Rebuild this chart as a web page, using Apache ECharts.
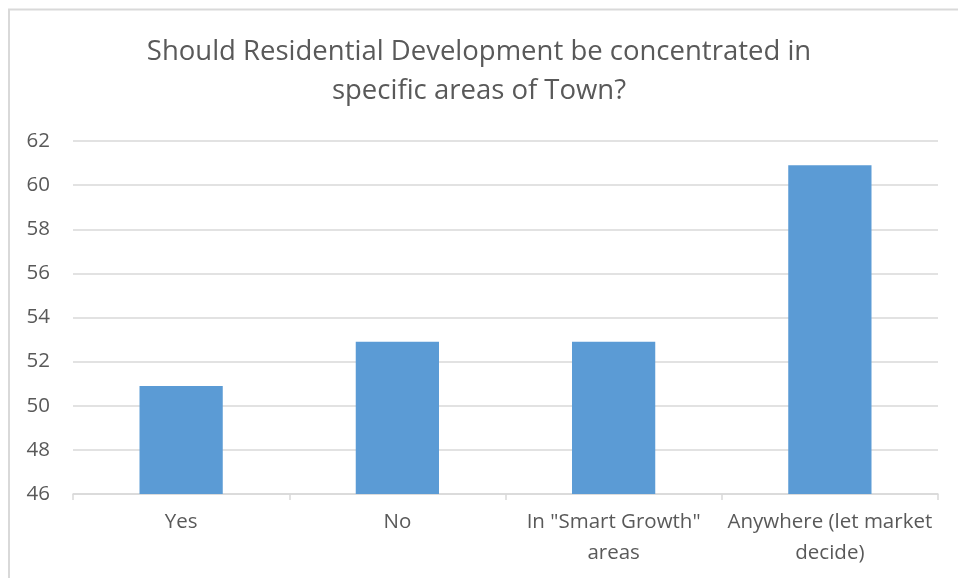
<!DOCTYPE html>
<html>
<head>
<meta charset="utf-8">
<script src="https://cdn.jsdelivr.net/npm/echarts@6/dist/echarts.min.js"></script>
<style>html,body{margin:0;padding:0;background:#fff;}#c{width:958px;height:578px;}</style>
</head>
<body>
<div id="c"></div>
<script>
const titleText = 'Should Residential Development be concentrated in\nspecific areas of Town?';
const categories = ['Yes', 'No', 'In "Smart Growth"\nareas', 'Anywhere (let market\ndecide)'];
const values = [50.9, 52.9, 52.9, 60.9];
const yMin = 46, yMax = 62, yStep = 2;

const chart = echarts.init(document.getElementById('c'), null, {renderer: 'canvas'});
const font = '"Open Sans", "Liberation Sans", sans-serif';
chart.setOption({
  animation: false,
  backgroundColor: '#fff',
  title: {
    text: titleText,
    left: 'center',
    top: 28,
    textStyle: {fontFamily: font, fontSize: 27.5, fontWeight: 'normal', color: '#595959', lineHeight: 39}
  },
  graphic: [
    {type: 'line', shape: {x1: 8, y1: 9.5, x2: 958, y2: 9.5}, style: {stroke: '#d9d9d9', lineWidth: 2}},
    {type: 'line', shape: {x1: 9, y1: 9, x2: 9, y2: 578}, style: {stroke: '#d9d9d9', lineWidth: 2}}
  ],
  grid: {left: 73, right: 20, top: 141, bottom: 84, containLabel: false},
  xAxis: {
    type: 'category',
    data: categories,
    axisLine: {lineStyle: {color: '#d9d9d9', width: 1.5}},
    axisTick: {show: true, length: 6, lineStyle: {color: '#d9d9d9', width: 1.5}},
    axisLabel: {fontFamily: font, fontSize: 20.5, color: '#595959', lineHeight: 31, margin: 13, interval: 0}
  },
  yAxis: {
    type: 'value',
    min: yMin, max: yMax, interval: yStep,
    axisLine: {show: false},
    axisTick: {show: false},
    splitLine: {lineStyle: {color: '#d9d9d9', width: 1.5}},
    axisLabel: {fontFamily: font, fontSize: 20.5, color: '#595959', margin: 23}
  },
  series: [{
    type: 'bar',
    data: values,
    barWidth: '38.5%',
    itemStyle: {color: '#5b9bd5'}
  }]
});
</script>
</body>
</html>
